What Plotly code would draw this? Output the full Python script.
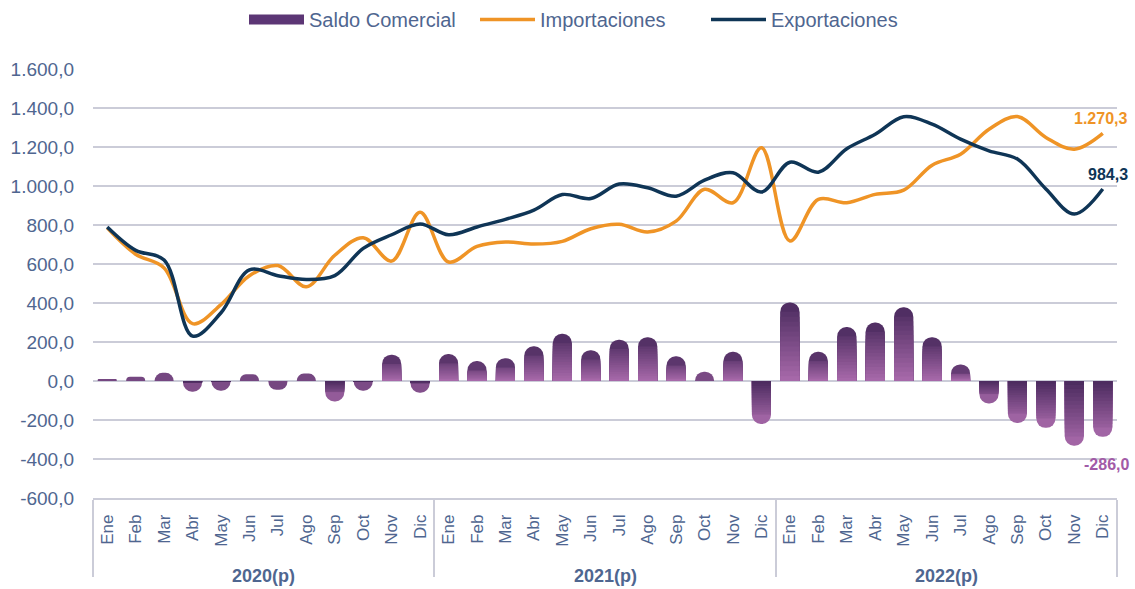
import plotly.graph_objects as go

years = ["2020(p)", "2021(p)", "2022(p)"]
months = ["Ene", "Feb", "Mar", "Abr", "May", "Jun", "Jul", "Ago", "Sep", "Oct", "Nov", "Dic"]

exportaciones = [790, 670, 620, 230, 350, 570, 540, 520, 540, 680, 750, 805,
                 750, 790, 829, 876, 956, 936, 1010, 991, 948, 1030, 1068, 969,
                 1122, 1071, 1191, 1265, 1355, 1317, 1240, 1180, 1138, 985, 856, 984.3]
importaciones = [785, 650, 580, 294, 392, 540, 592, 483, 645, 735, 615, 865,
                 610, 690, 713, 702, 716, 781, 804, 764, 820, 983, 914, 1196,
                 718, 931, 914, 957, 979, 1107, 1163, 1291, 1356, 1249, 1189, 1270.3]
saldo = [8, 22, 42, -55, -50, 35, -45, 38, -105, -50, 135, -60,
         138, 102, 117, 178, 242, 158, 212, 225, 127, 48, 150, -220,
         403, 150, 277, 300, 378, 225, 85, -115, -215, -240, -332, -286.0]
y_ticks = [-600, -400, -200, 0, 200, 400, 600, 800, 1000, 1200, 1400, 1600]

ORANGE = "#EF9426"
NAVY = "#0F3556"
TEXT = "#4F6690"
GRID = "#CBCCD8"
PDARK = (74, 42, 94)
PLIGHT = (169, 106, 171)
PLABEL = "#A25BA7"

# outer level only used for grouping/dividers (blank keys); visible year labels added below
x_cat = [[" " * (gi + 1) for gi, y in enumerate(years) for m in months],
         [m for y in years for m in months]]


def lerp(a, b, t):
    t = max(0.0, min(1.0, t))
    return "rgb({},{},{})".format(*[int(round(a[i] + (b[i] - a[i]) * t)) for i in range(3)])


def es(v):
    return f"{v:,.1f}".replace(",", "X").replace(".", ",").replace("X", ".")


fig = go.Figure()

# full rounded bars (base layer)
R_UNITS = 48
full_colors = []
for v in saldo:
    av = abs(v)
    L = max(av - R_UNITS, 0)
    tcap = (L + av) / (2 * av) if av else 0.5
    if av < R_UNITS:
        full_colors.append(lerp(PLIGHT, PDARK, 0.55))
    elif v >= 0:
        full_colors.append(lerp(PLIGHT, PDARK, tcap))
    else:
        full_colors.append(lerp(PDARK, PLIGHT, tcap))
fig.add_trace(go.Bar(x=x_cat, y=saldo, marker=dict(color=full_colors, line_width=0, cornerradius="50%"),
                     showlegend=False, hoverinfo="skip"))

# gradient overlay segments (square ends)
N = 14
for k in range(N - 1, -1, -1):
    ys = []
    cols = []
    for v in saldo:
        L = max(abs(v) - R_UNITS, 0)
        s = 1 if v >= 0 else -1
        ys.append(s * L * (k + 1) / N)
        t = (k + 0.5) / N * (L / abs(v) if v else 0)
        if v >= 0:
            cols.append(lerp(PLIGHT, PDARK, t))
        else:
            cols.append(lerp(PDARK, PLIGHT, t))
    fig.add_trace(go.Bar(x=x_cat, y=ys, marker=dict(color=cols, line_width=0),
                         showlegend=False, hoverinfo="skip"))

# legend swatch for Saldo Comercial
fig.add_trace(go.Scatter(x=[None], y=[None], mode="lines", name="Saldo Comercial",
                         line=dict(color="rgb(92,54,117)", width=10)))
fig.add_trace(go.Scatter(x=x_cat, y=importaciones, mode="lines", name="Importaciones",
                         line=dict(color=ORANGE, width=3.5, shape="spline", smoothing=1.0)))
fig.add_trace(go.Scatter(x=x_cat, y=exportaciones, mode="lines", name="Exportaciones",
                         line=dict(color=NAVY, width=3.5, shape="spline", smoothing=1.0)))

n = len(saldo) - 1
fig.add_annotation(x=n, y=importaciones[-1], text=f"<b>{es(importaciones[-1])}</b>", showarrow=False,
                   yanchor="bottom", yshift=4, xshift=-2, font=dict(color=ORANGE, size=16))
fig.add_annotation(x=n, y=exportaciones[-1], text=f"<b>{es(exportaciones[-1])}</b>", showarrow=False,
                   yanchor="bottom", yshift=4, xshift=5, font=dict(color=NAVY, size=16))
fig.add_annotation(x=n, y=saldo[-1], text=f"<b>{es(saldo[-1])}</b>", showarrow=False,
                   yanchor="top", yshift=-17, xshift=4, font=dict(color=PLABEL, size=16))

# year group labels
for gi, y in enumerate(years):
    fig.add_annotation(x=gi * len(months) + (len(months) - 1) / 2, xref="x", y=0, yref="paper",
                       text=f"<b>{y}</b>", showarrow=False, yanchor="middle", yshift=-78,
                       font=dict(color=TEXT, size=18))

fig.update_layout(
    width=1135, height=589,
    margin=dict(l=93, r=18, t=69, b=91),
    paper_bgcolor="white", plot_bgcolor="white",
    barmode="overlay", bargap=0.33,
    separators=",.",
    font=dict(family="Liberation Sans, Arial, sans-serif", color=TEXT),
    legend=dict(orientation="h", x=244 / 1135, xanchor="left", xref="container", y=1.0, yanchor="top",
                yref="container", font=dict(size=20, color=TEXT), itemwidth=55,
                entrywidth=161, entrywidthmode="pixels", traceorder="normal"),
)
fig.update_yaxes(range=[-600, 1600], tickvals=y_ticks, ticktext=[es(v) for v in y_ticks],
                 showgrid=True, gridcolor=GRID, gridwidth=2, zeroline=False,
                 tickfont=dict(size=19, color=TEXT), ticklabelstandoff=18, showline=False)
fig.update_xaxes(type="multicategory", tickangle=-90, tickfont=dict(size=17, color=TEXT),
                 ticklabelstandoff=8,
                 showline=True, linecolor=GRID, linewidth=1.5, showdividers=True,
                 dividercolor=GRID, dividerwidth=1.5, showgrid=False, range=[-0.5, 35.5])

fig.write_html("out.html", config={"displayModeBar": False},
               post_script="document.body.style.margin='0';document.body.style.padding='0';")
